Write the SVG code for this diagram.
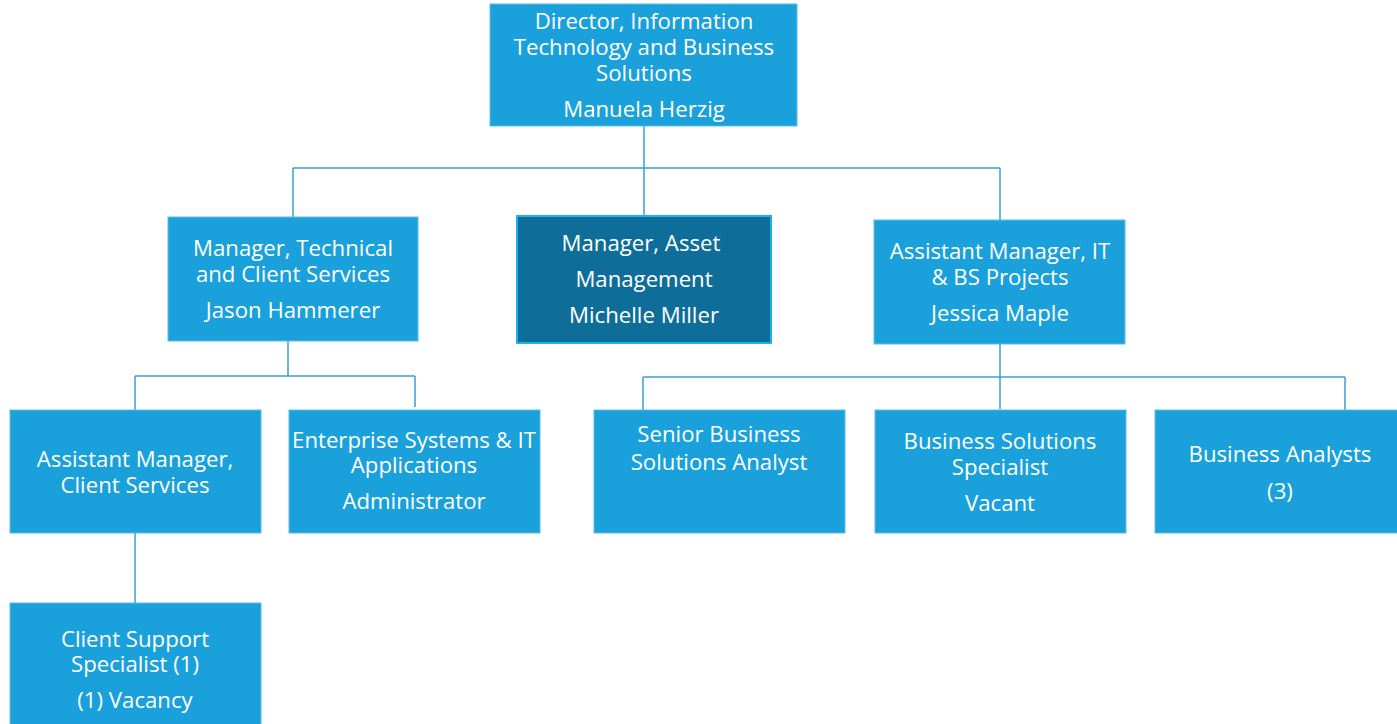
<svg xmlns="http://www.w3.org/2000/svg" width="1397" height="724" viewBox="0 0 1397 724">
  <style>
    .box { fill: #1aa1dc; stroke: #5cbde8; stroke-width: 1; }
    .box-dark { fill: #0f6e99; stroke: #1cb2ea; stroke-width: 2; }
    .lbl { font-family: "Open Sans", "Noto Sans", "Liberation Sans", sans-serif; font-size: 22.2px; fill: #ffffff; text-anchor: middle; }
    .link { fill: none; stroke: #3a9fd3; stroke-width: 1.5; }
  </style>
  <rect width="1397" height="724" fill="#ffffff"/>

  <g id="connectors">
    <path class="link" d="M644 126 V168 M293 168 H1000 M293 168 V217 M644 168 V215 M1000 168 V220"/>
    <path class="link" d="M288 341 V376 M135 376 H415 M135 376 V410 M415 376 V407"/>
    <path class="link" d="M135 533 V603"/>
    <path class="link" d="M1000 344 V409 M643 377 H1345 M643 377 V410 M1345 377 V410"/>
  </g>

  <g id="director">
    <rect class="box" x="490" y="4" width="307" height="122"/>
    <text class="lbl" x="644" y="29">Director, Information</text>
    <text class="lbl" x="644" y="55">Technology and Business</text>
    <text class="lbl" x="644" y="81">Solutions</text>
    <text class="lbl" x="644" y="117">Manuela Herzig</text>
  </g>

  <g id="mgr-technical">
    <rect class="box" x="168" y="217" width="250" height="124"/>
    <text class="lbl" x="293" y="256">Manager, Technical</text>
    <text class="lbl" x="293" y="282">and Client Services</text>
    <text class="lbl" x="293" y="318">Jason Hammerer</text>
  </g>

  <g id="mgr-asset">
    <rect class="box-dark" x="517" y="216" width="254" height="127"/>
    <text class="lbl" x="641" y="251">Manager, Asset</text>
    <text class="lbl" x="644" y="287">Management</text>
    <text class="lbl" x="644" y="323">Michelle Miller</text>
  </g>

  <g id="asst-mgr-it">
    <rect class="box" x="874" y="220" width="251" height="124"/>
    <text class="lbl" x="1000" y="259">Assistant Manager, IT</text>
    <text class="lbl" x="1000" y="285">&amp; BS Projects</text>
    <text class="lbl" x="1000" y="321">Jessica Maple</text>
  </g>

  <g id="asst-mgr-client">
    <rect class="box" x="10" y="410" width="251" height="123"/>
    <text class="lbl" x="135" y="467">Assistant Manager,</text>
    <text class="lbl" x="135" y="493">Client Services</text>
  </g>

  <g id="enterprise-admin">
    <rect class="box" x="289" y="410" width="251" height="123"/>
    <text class="lbl" x="414" y="448">Enterprise Systems &amp; IT</text>
    <text class="lbl" x="414" y="473">Applications</text>
    <text class="lbl" x="414" y="509">Administrator</text>
  </g>

  <g id="senior-analyst">
    <rect class="box" x="594" y="410" width="251" height="123"/>
    <text class="lbl" x="719" y="442">Senior Business</text>
    <text class="lbl" x="719" y="470">Solutions Analyst</text>
  </g>

  <g id="solutions-specialist">
    <rect class="box" x="875" y="410" width="251" height="123"/>
    <text class="lbl" x="1000" y="449">Business Solutions</text>
    <text class="lbl" x="1000" y="475">Specialist</text>
    <text class="lbl" x="1000" y="511">Vacant</text>
  </g>

  <g id="business-analysts">
    <rect class="box" x="1155" y="410" width="243" height="123"/>
    <text class="lbl" x="1280" y="462">Business Analysts</text>
    <text class="lbl" x="1280" y="499">(3)</text>
  </g>

  <g id="client-support">
    <rect class="box" x="10" y="603" width="251" height="122"/>
    <text class="lbl" x="135" y="647">Client Support</text>
    <text class="lbl" x="135" y="672">Specialist (1)</text>
    <text class="lbl" x="135" y="708">(1) Vacancy</text>
  </g>
</svg>
